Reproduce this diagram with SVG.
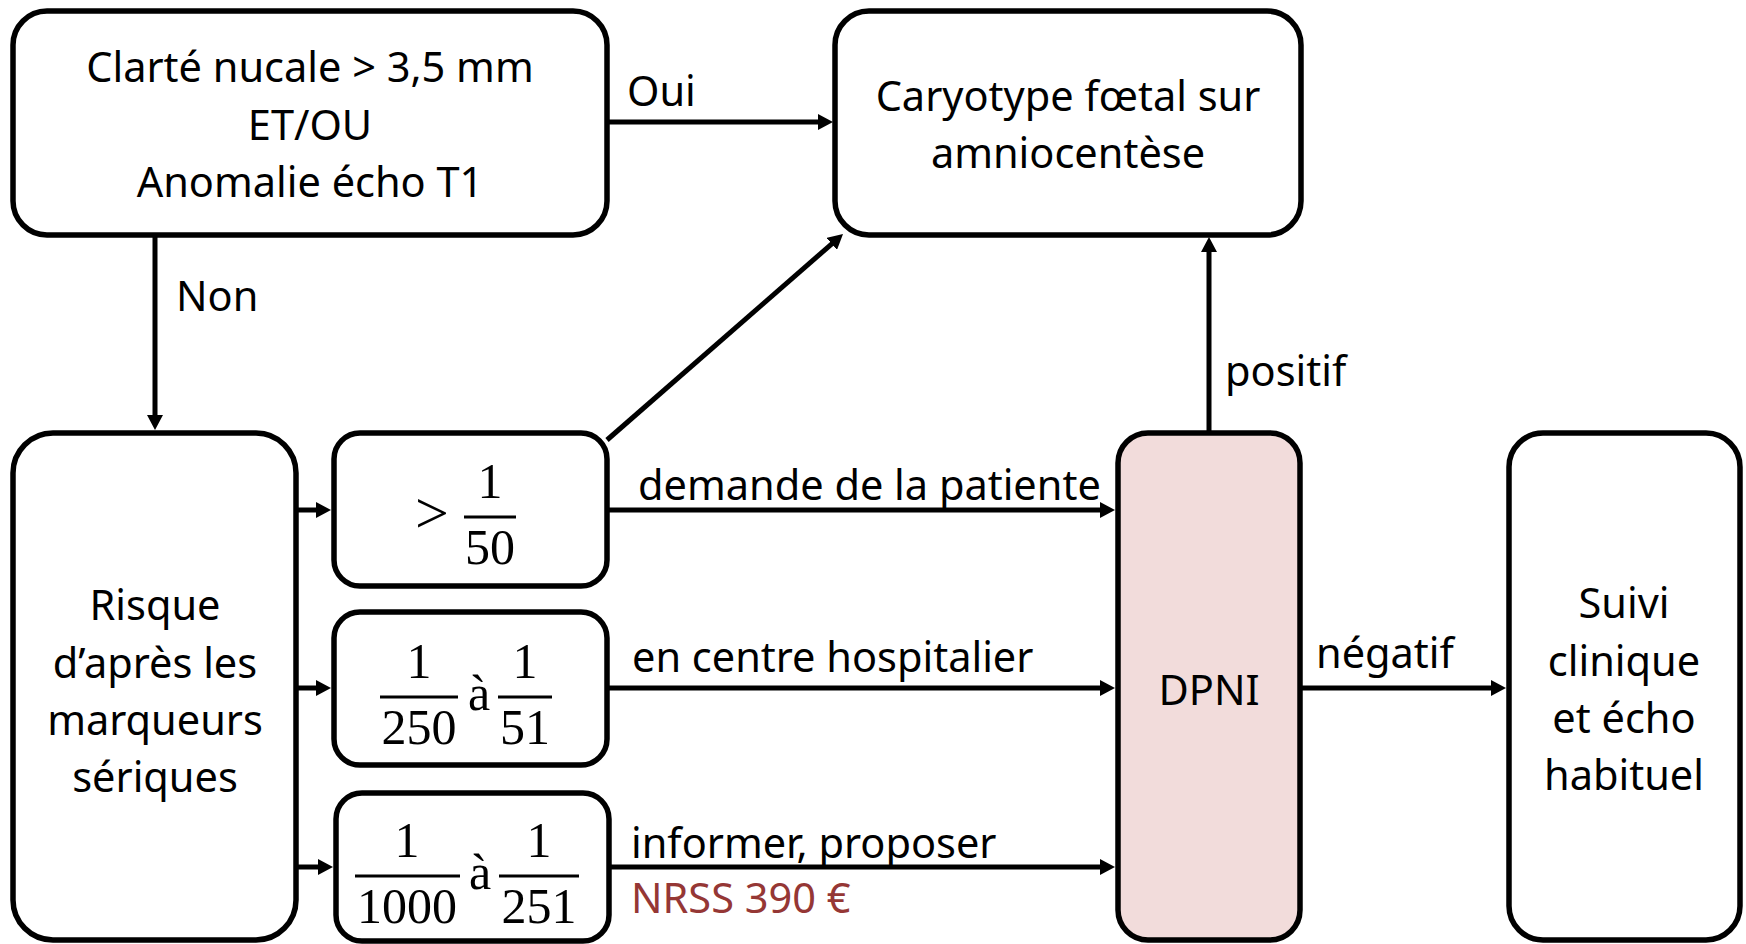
<svg xmlns="http://www.w3.org/2000/svg" width="1746" height="944" viewBox="0 0 1746 944">
<style>
.box{fill:#ffffff;stroke:#000;stroke-width:5.5}
.pink{fill:#F2DCDB;stroke:#000;stroke-width:5.5}
.t{font-family:"Noto Sans","Open Sans",sans-serif;font-size:41.5px;fill:#000}
.c{text-anchor:middle}
.red{fill:#953735}
.m{font-family:"Liberation Serif","DejaVu Serif",serif;font-size:50px;fill:#000;text-anchor:middle}
.gt{font-size:60px}
.bar{stroke:#000;stroke-width:3}
.ln{stroke:#000;stroke-width:5;fill:none;marker-end:url(#ah)}
</style>
<defs>
<marker id="ah" markerUnits="userSpaceOnUse" markerWidth="16" markerHeight="16" viewBox="0 0 16 16" refX="7" refY="8" orient="auto">
<path d="M0,0 L15,8 L0,16 Z" fill="#000"/>
</marker>
</defs>
<rect width="1746" height="944" fill="#fff"/>
<g id="connectors">
<line class="ln" x1="607" y1="122" x2="825" y2="122"/>
<line class="ln" x1="155" y1="235" x2="155" y2="422"/>
<line class="ln" x1="296" y1="510" x2="323" y2="510"/>
<line class="ln" x1="296" y1="688" x2="323" y2="688"/>
<line class="ln" x1="296" y1="867" x2="325" y2="867"/>
<line class="ln" x1="607" y1="440" x2="837" y2="239.3"/>
<line class="ln" x1="607" y1="510" x2="1107" y2="510"/>
<line class="ln" x1="607" y1="688" x2="1107" y2="688"/>
<line class="ln" x1="609" y1="867" x2="1107" y2="867"/>
<line class="ln" x1="1209" y1="433" x2="1209" y2="245"/>
<line class="ln" x1="1300" y1="688" x2="1498" y2="688"/>
<text class="t" x="627" y="106">Oui</text>
<text class="t" x="176" y="311">Non</text>
<text class="t" x="638" y="500">demande de la patiente</text>
<text class="t" x="632" y="672">en centre hospitalier</text>
<text class="t" x="631" y="858">informer, proposer</text>
<text class="t red" x="631" y="913">NRSS 390 €</text>
<text class="t" x="1225" y="386">positif</text>
<text class="t" x="1316" y="668">négatif</text>
</g>
<g id="clarte">
<rect class="box" x="13" y="11" width="594" height="224" rx="34"/>
<text class="t c" x="310" y="82">Clarté nucale &gt; 3,5 mm</text>
<text class="t c" x="310" y="140">ET/OU</text>
<text class="t c" x="310" y="197">Anomalie écho T1</text>
</g>
<g id="caryotype">
<rect class="box" x="835" y="11" width="466" height="224" rx="34"/>
<text class="t c" x="1068" y="111">Caryotype fœtal sur</text>
<text class="t c" x="1068" y="168">amniocentèse</text>
</g>
<g id="risque">
<rect class="box" x="13" y="433" width="283" height="507" rx="40"/>
<text class="t c" x="155" y="620">Risque</text>
<text class="t c" x="155" y="678">d’après les</text>
<text class="t c" x="155" y="735">marqueurs</text>
<text class="t c" x="155" y="792">sériques</text>
</g>
<g id="frac50">
<rect class="box" x="334" y="433" width="273" height="153" rx="26"/>
<text class="m gt" x="432" y="533">&gt;</text>
<text class="m" x="490" y="498">1</text>
<line class="bar" x1="464" y1="517" x2="516" y2="517"/>
<text class="m" x="490" y="564">50</text>
</g>
<g id="frac250">
<rect class="box" x="334" y="612" width="273" height="153" rx="26"/>
<text class="m" x="419" y="678">1</text>
<line class="bar" x1="380" y1="697" x2="458" y2="697"/>
<text class="m" x="419" y="744">250</text>
<text class="m" x="479" y="710">à</text>
<text class="m" x="525" y="678">1</text>
<line class="bar" x1="498" y1="697" x2="552" y2="697"/>
<text class="m" x="525" y="744">51</text>
</g>
<g id="frac1000">
<rect class="box" x="336" y="793" width="273" height="148" rx="26"/>
<text class="m" x="407" y="857">1</text>
<line class="bar" x1="355" y1="876" x2="460" y2="876"/>
<text class="m" x="407" y="923">1000</text>
<text class="m" x="480" y="889">à</text>
<text class="m" x="539" y="857">1</text>
<line class="bar" x1="499" y1="876" x2="579" y2="876"/>
<text class="m" x="539" y="923">251</text>
</g>
<g id="dpni">
<rect class="pink" x="1118" y="433" width="182" height="507" rx="30"/>
<text class="t c" x="1209" y="705">DPNI</text>
</g>
<g id="suivi">
<rect class="box" x="1509" y="433" width="231" height="507" rx="34"/>
<text class="t c" x="1624" y="618">Suivi</text>
<text class="t c" x="1624" y="676">clinique</text>
<text class="t c" x="1624" y="733">et écho</text>
<text class="t c" x="1624" y="790">habituel</text>
</g>
</svg>
